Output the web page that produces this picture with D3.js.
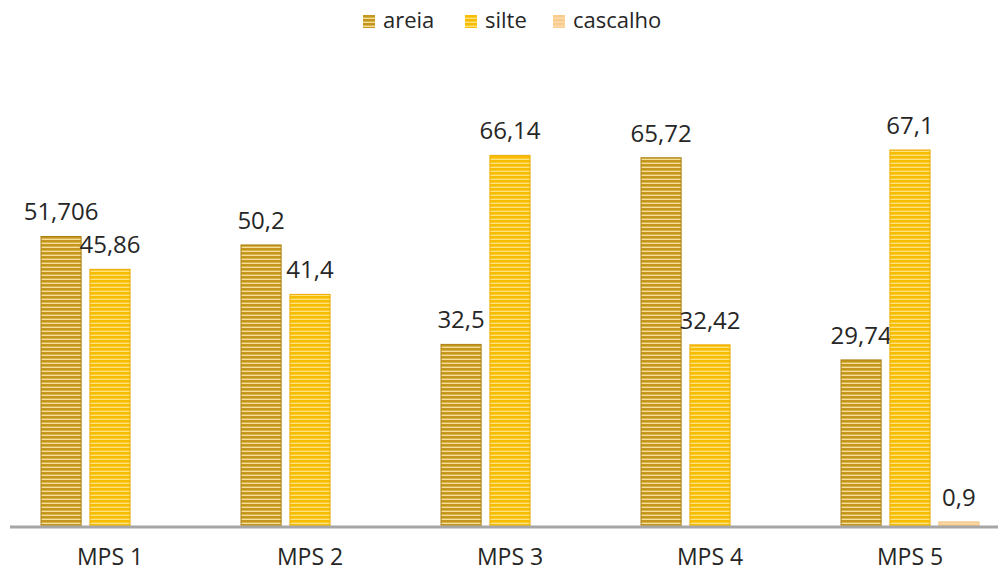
<!DOCTYPE html>
<html>
<head>
<meta charset="utf-8">
<script src="https://cdn.jsdelivr.net/npm/d3@7"></script>
<style>
  body { margin: 0; background: #fff; }
  text { font-family: "Open Sans", sans-serif; fill: #262626; }
</style>
</head>
<body>
<svg id="drawing_region"></svg>
<script>
const categories = ['MPS 1', 'MPS 2', 'MPS 3', 'MPS 4', 'MPS 5'];
const series = ['areia', 'silte', 'cascalho'];
const areia = [51.706, 50.2, 32.5, 65.72, 29.74];
const silte = [45.86, 41.4, 66.14, 32.42, 67.1];
const cascalho = [null, null, null, null, 0.9];

const values = { areia: areia, silte: silte, cascalho: cascalho };
const data = categories.map((c, i) => ({
    label: c,
    items: series.map(s => ({ key: s, value: values[s][i] }))
}));

const width = 998, height = 575;
const baseline = 527;

const svg = d3.select('#drawing_region')
    .attr('width', width)
    .attr('height', height);

// stripe patterns
const defs = svg.append('defs');
const patterns = {
    areia: { base: '#f5de98', line: '#c4961e', edge: '#ad8212' },
    silte: { base: '#ffe27e', line: '#f8bc00', edge: '#eaac00' },
    cascalho: { base: '#fcdcae', line: '#f9cc8e', edge: '#f4c07c' }
};
Object.entries(patterns).forEach(([k, p]) => {
    const pat = defs.append('pattern')
        .attr('id', 'pat-' + k)
        .attr('patternUnits', 'userSpaceOnUse')
        .attr('width', 8).attr('height', 4);
    pat.append('rect').attr('width', 8).attr('height', 4).attr('fill', p.base);
    pat.append('rect').attr('y', 0).attr('width', 8).attr('height', 2.6).attr('fill', p.line);
});

const xscale = d3.scaleBand()
    .domain(categories)
    .range([10, 1010])
    .paddingInner(0.31)
    .paddingOuter(0.155);

const xinner = d3.scaleBand()
    .domain(series)
    .range([0, xscale.bandwidth()])
    .paddingInner(0.18);

const yscale = d3.scaleLinear()
    .domain([0, 67.1])
    .range([baseline, 150]);

const fmt = v => String(v).replace('.', ',');

const groups = svg.selectAll('g.grp')
    .data(data)
    .join('g')
    .attr('class', 'grp')
    .attr('transform', d => `translate(${xscale(d.label)},0)`);

const bars = groups.selectAll('g.bar')
    .data(d => d.items.filter(e => e.value != null))
    .join('g')
    .attr('class', 'bar');

bars.append('rect')
    .attr('x', d => xinner(d.key))
    .attr('y', d => yscale(d.value))
    .attr('width', xinner.bandwidth())
    .attr('height', d => baseline - yscale(d.value))
    .attr('fill', d => `url(#pat-${d.key})`)
    .attr('stroke', d => patterns[d.key].edge)
    .attr('stroke-width', 1);

bars.append('text')
    .attr('x', d => xinner(d.key) + xinner.bandwidth() / 2)
    .attr('y', d => yscale(d.value) - 16)
    .attr('text-anchor', 'middle')
    .attr('font-size', 24)
    .text(d => fmt(d.value));

// x axis
const xaxis = d3.axisBottom(xscale).tickSize(0).tickPadding(21);
const xaxis_group = svg.append('g')
    .attr('transform', `translate(0, ${baseline})`)
    .call(xaxis);
xaxis_group.select('.domain')
    .attr('d', `M10,0H998`)
    .attr('stroke', '#a6a6a6')
    .attr('stroke-width', 3);
xaxis_group.selectAll('.tick text')
    .attr('font-size', 23)
    .attr('font-family', '"Open Sans", sans-serif')
    .attr('fill', '#262626')
    .attr('dy', '0.75em');

// legend
const legendX = [363, 465, 553];
const legend = svg.append('g').selectAll('g')
    .data(series)
    .join('g')
    .attr('transform', (d, i) => `translate(${legendX[i]}, 15)`);
legend.append('rect')
    .attr('width', 12).attr('height', 13)
    .attr('fill', d => `url(#pat-${d})`);
legend.append('text')
    .attr('x', 20).attr('y', 13)
    .attr('font-size', 22)
    .text(d => d);
</script>
</body>
</html>
